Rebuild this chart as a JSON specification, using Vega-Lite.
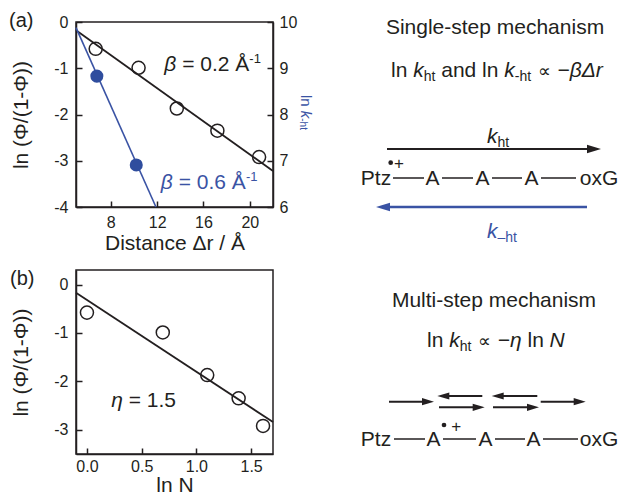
{
  "$schema": "https://vega.github.io/schema/vega-lite/v6.json",
  "autosize": {"type": "pad"},
  "padding": {"left": 8, "top": 10, "right": 0, "bottom": 0},
  "background": "white",
  "config": {
    "font": "Liberation Sans",
    "view": {"stroke": "#231f20", "strokeWidth": 1.5},
    "axis": {"grid": false, "domainColor": "#231f20", "domainWidth": 1.5, "tickColor": "#231f20", "tickWidth": 1.5, "tickSize": -6,
      "labelFont": "Liberation Sans", "labelFontSize": 16, "labelColor": "#231f20", "labelFlush": false, "labelOverlap": false, "labelBound": false,
      "titleFont": "Liberation Sans", "titleFontSize": 21, "titleFontWeight": "normal", "titleColor": "#231f20"},
    "text": {"font": "Liberation Sans", "fontSize": 21, "color": "#231f20"}
  },
  "bounds": "flush",
  "columns": 2,
  "spacing": {"row": 63, "column": 56},
  "concat": [
    {
      "width": 197, "height": 185,
      "resolve": {"scale": {"y": "independent"}},
      "layer": [
        {
          "layer": [
            {
              "data": {"values": [{"d": 5, "v": -0.18}, {"d": 22, "v": -3.22}]},
              "mark": {"type": "line", "color": "#231f20", "strokeWidth": 1.8},
              "encoding": {
                "x": {"field": "d", "type": "quantitative", "scale": {"domain": [5, 22], "nice": false, "zero": false},
                  "axis": {"title": "Distance Δr / Å", "values": [8, 10, 12, 14, 16, 18, 20], "labelOverlap": false,
                    "labelExpr": "datum.value % 4 === 0 ? '' + datum.value : ''",
                    "tickDash": {"condition": {"test": "datum.value % 4 !== 0", "value": [3, 20]}, "value": [10, 0]},
                    "labelPadding": 13, "titlePadding": 2}},
                "y": {"field": "v", "type": "quantitative", "scale": {"domain": [-4, 0], "nice": false, "zero": false},
                  "axis": {"orient": "left", "title": "ln (Φ/(1-Φ))", "values": [-4, -3.5, -3, -2.5, -2, -1.5, -1, -0.5, 0], "labelOverlap": false,
                    "labelExpr": "datum.value % 1 === 0 ? (datum.value < 0 ? '-' + abs(datum.value) : '' + datum.value) : ''",
                    "tickDash": {"condition": {"test": "datum.value % 1 !== 0", "value": [3, 20]}, "value": [10, 0]},
                    "labelPadding": 14, "titlePadding": 22}}
              }
            },
            {
              "data": {"values": [{"d": 6.7, "v": -0.58}, {"d": 10.4, "v": -0.99}, {"d": 13.7, "v": -1.87}, {"d": 17.2, "v": -2.35}, {"d": 20.8, "v": -2.92}]},
              "mark": {"type": "point", "shape": "circle", "filled": false, "color": "#231f20", "strokeWidth": 1.5, "size": 170, "opacity": 1},
              "encoding": {
                "x": {"field": "d", "type": "quantitative"},
                "y": {"field": "v", "type": "quantitative"}
              }
            },
            {
              "data": {"values": [{}]},
              "layer": [
                {"mark": {"type": "text", "text": "(a)", "align": "center", "baseline": "middle", "fontSize": 20}, "encoding": {"x": {"datum": 0.28}, "y": {"datum": 0.02}}},
                {"mark": {"type": "text", "text": "β", "align": "left", "baseline": "alphabetic", "fontStyle": "italic"}, "encoding": {"x": {"datum": 12.62}, "y": {"datum": -1.05}}},
                {"mark": {"type": "text", "text": "= 0.2 Å", "align": "left", "baseline": "alphabetic"}, "encoding": {"x": {"datum": 14.16}, "y": {"datum": -1.05}}},
                {"mark": {"type": "text", "text": "-1", "align": "left", "baseline": "alphabetic", "fontSize": 13}, "encoding": {"x": {"datum": 19.96}, "y": {"datum": -0.877}}},
                {"mark": {"type": "text", "text": "β", "align": "left", "baseline": "alphabetic", "fontStyle": "italic", "color": "#3a53a4"}, "encoding": {"x": {"datum": 12.32}, "y": {"datum": -3.62}}},
                {"mark": {"type": "text", "text": "= 0.6 Å", "align": "left", "baseline": "alphabetic", "color": "#3a53a4"}, "encoding": {"x": {"datum": 13.86}, "y": {"datum": -3.62}}},
                {"mark": {"type": "text", "text": "-1", "align": "left", "baseline": "alphabetic", "fontSize": 13, "color": "#3a53a4"}, "encoding": {"x": {"datum": 19.66}, "y": {"datum": -3.447}}},
                {"mark": {"type": "text", "text": "ln", "angle": 90, "align": "left", "baseline": "middle", "fontSize": 15, "color": "#3a53a4"}, "encoding": {"x": {"datum": 24.85}, "y": {"datum": -1.578}}},
                {"mark": {"type": "text", "text": "k", "angle": 90, "align": "left", "baseline": "middle", "fontSize": 15, "fontStyle": "italic", "color": "#3a53a4"}, "encoding": {"x": {"datum": 24.85}, "y": {"datum": -1.92}}},
                {"mark": {"type": "text", "text": "-ht", "angle": 90, "align": "left", "baseline": "middle", "fontSize": 10, "dy": 3, "color": "#3a53a4"}, "encoding": {"x": {"datum": 24.85}, "y": {"datum": -2.082}}}
              ]
            }
          ]
        },
        {
          "layer": [
            {
              "data": {"values": [{"d": 5, "k": 9.88}, {"d": 11.9, "k": 6}]},
              "mark": {"type": "line", "color": "#3a53a4", "strokeWidth": 1.6},
              "encoding": {
                "x": {"field": "d", "type": "quantitative"},
                "y": {"field": "k", "type": "quantitative", "scale": {"domain": [6, 10], "nice": false, "zero": false},
                  "axis": {"orient": "right", "title": null, "values": [6, 6.5, 7, 7.5, 8, 8.5, 9, 9.5, 10], "labelOverlap": false,
                    "labelExpr": "datum.value % 1 === 0 ? '' + datum.value : ''",
                    "tickDash": {"condition": {"test": "datum.value % 1 !== 0", "value": [3, 20]}, "value": [10, 0]},
                    "labelPadding": 12}}
              }
            },
            {
              "data": {"values": [{"d": 6.8, "k": 8.83}, {"d": 10.2, "k": 6.91}]},
              "mark": {"type": "point", "shape": "circle", "filled": true, "color": "#2f4d9e", "size": 170, "opacity": 1},
              "encoding": {
                "x": {"field": "d", "type": "quantitative"},
                "y": {"field": "k", "type": "quantitative"}
              }
            }
          ]
        }
      ]
    },
    {
      "width": 293, "height": 185,
      "view": {"stroke": null},
      "data": {"values": [{}]},
      "layer": [
        {"mark": {"type": "text", "text": "Single-step mechanism", "align": "center", "baseline": "alphabetic"},
          "encoding": {"x": {"datum": 166, "type": "quantitative", "scale": {"domain": [0, 293], "nice": false, "zero": false}, "axis": null},
            "y": {"datum": 12, "type": "quantitative", "scale": {"domain": [0, 185], "reverse": true, "nice": false, "zero": false}, "axis": null}}},
        {"mark": {"type": "text", "text": "ln", "align": "left", "baseline": "alphabetic"}, "encoding": {"x": {"datum": 62, "axis": null}, "y": {"datum": 55.3, "axis": null}}},
        {"mark": {"type": "text", "text": "k", "align": "left", "baseline": "alphabetic", "fontStyle": "italic"}, "encoding": {"x": {"datum": 84.2, "axis": null}, "y": {"datum": 55.3, "axis": null}}},
        {"mark": {"type": "text", "text": "ht", "align": "left", "baseline": "alphabetic", "fontSize": 14}, "encoding": {"x": {"datum": 94.7, "axis": null}, "y": {"datum": 59.3, "axis": null}}},
        {"mark": {"type": "text", "text": "and ln", "align": "left", "baseline": "alphabetic"}, "encoding": {"x": {"datum": 112.2, "axis": null}, "y": {"datum": 55.3, "axis": null}}},
        {"mark": {"type": "text", "text": "k", "align": "left", "baseline": "alphabetic", "fontStyle": "italic"}, "encoding": {"x": {"datum": 175.3, "axis": null}, "y": {"datum": 55.3, "axis": null}}},
        {"mark": {"type": "text", "text": "-ht", "align": "left", "baseline": "alphabetic", "fontSize": 14}, "encoding": {"x": {"datum": 185.8, "axis": null}, "y": {"datum": 59.3, "axis": null}}},
        {"mark": {"type": "text", "text": "∝", "align": "center", "baseline": "alphabetic", "fontSize": 18}, "encoding": {"x": {"datum": 215.3, "axis": null}, "y": {"datum": 55.3, "axis": null}}},
        {"mark": {"type": "text", "text": "−βΔr", "align": "left", "baseline": "alphabetic", "fontStyle": "italic"}, "encoding": {"x": {"datum": 228.5, "axis": null}, "y": {"datum": 55.3, "axis": null}}},
        {"mark": {"type": "text", "text": "k", "align": "left", "baseline": "alphabetic", "fontStyle": "italic"}, "encoding": {"x": {"datum": 158, "axis": null}, "y": {"datum": 121, "axis": null}}},
        {"mark": {"type": "text", "text": "ht", "align": "left", "baseline": "alphabetic", "fontSize": 14}, "encoding": {"x": {"datum": 168.5, "axis": null}, "y": {"datum": 125, "axis": null}}},
        {"mark": {"type": "rule", "color": "#231f20", "strokeWidth": 2}, "encoding": {"x": {"datum": 58, "axis": null}, "x2": {"datum": 262}, "y": {"datum": 127, "axis": null}}},
        {"mark": {"type": "point", "shape": "M-1,-0.6L1,0L-1,0.6Z", "filled": true, "color": "#231f20", "size": 196, "opacity": 1, "strokeWidth": 0}, "encoding": {"x": {"datum": 265, "axis": null}, "y": {"datum": 127, "axis": null}}},
        {"mark": {"type": "point", "shape": "circle", "filled": true, "color": "#231f20", "size": 22, "opacity": 1}, "encoding": {"x": {"datum": 61.7, "axis": null}, "y": {"datum": 140.7, "axis": null}}},
        {"mark": {"type": "text", "text": "+", "align": "center", "baseline": "middle", "fontSize": 17}, "encoding": {"x": {"datum": 70, "axis": null}, "y": {"datum": 142, "axis": null}}},
        {"mark": {"type": "text", "text": "Ptz", "align": "center", "baseline": "alphabetic"}, "encoding": {"x": {"datum": 47, "axis": null}, "y": {"datum": 163, "axis": null}}},
        {"mark": {"type": "text", "text": "A", "align": "center", "baseline": "alphabetic"}, "encoding": {"x": {"datum": 103.5, "axis": null}, "y": {"datum": 163, "axis": null}}},
        {"mark": {"type": "text", "text": "A", "align": "center", "baseline": "alphabetic"}, "encoding": {"x": {"datum": 153.5, "axis": null}, "y": {"datum": 163, "axis": null}}},
        {"mark": {"type": "text", "text": "A", "align": "center", "baseline": "alphabetic"}, "encoding": {"x": {"datum": 202.5, "axis": null}, "y": {"datum": 163, "axis": null}}},
        {"mark": {"type": "text", "text": "oxG", "align": "center", "baseline": "alphabetic"}, "encoding": {"x": {"datum": 270, "axis": null}, "y": {"datum": 163, "axis": null}}},
        {"mark": {"type": "rule", "color": "#231f20", "strokeWidth": 1.5}, "encoding": {"x": {"datum": 64, "axis": null}, "x2": {"datum": 95}, "y": {"datum": 156, "axis": null}}},
        {"mark": {"type": "rule", "color": "#231f20", "strokeWidth": 1.5}, "encoding": {"x": {"datum": 113, "axis": null}, "x2": {"datum": 144}, "y": {"datum": 156, "axis": null}}},
        {"mark": {"type": "rule", "color": "#231f20", "strokeWidth": 1.5}, "encoding": {"x": {"datum": 163, "axis": null}, "x2": {"datum": 193}, "y": {"datum": 156, "axis": null}}},
        {"mark": {"type": "rule", "color": "#231f20", "strokeWidth": 1.5}, "encoding": {"x": {"datum": 212, "axis": null}, "x2": {"datum": 247}, "y": {"datum": 156, "axis": null}}},
        {"mark": {"type": "rule", "color": "#3a53a4", "strokeWidth": 2.5}, "encoding": {"x": {"datum": 57, "axis": null}, "x2": {"datum": 258}, "y": {"datum": 185, "axis": null}}},
        {"mark": {"type": "point", "shape": "M1,-0.6L-1,0L1,0.6Z", "filled": true, "color": "#3a53a4", "size": 196, "opacity": 1, "strokeWidth": 0}, "encoding": {"x": {"datum": 54, "axis": null}, "y": {"datum": 185, "axis": null}}},
        {"mark": {"type": "text", "text": "k", "align": "left", "baseline": "alphabetic", "fontStyle": "italic", "color": "#3a53a4"}, "encoding": {"x": {"datum": 158, "axis": null}, "y": {"datum": 216, "axis": null}}},
        {"mark": {"type": "text", "text": "–ht", "align": "left", "baseline": "alphabetic", "fontSize": 14, "color": "#3a53a4"}, "encoding": {"x": {"datum": 168.5, "axis": null}, "y": {"datum": 220, "axis": null}}}
      ]
    },
    {
      "width": 197, "height": 184,
      "layer": [
        {
          "data": {"values": [{"n": -0.1, "v": -0.17}, {"n": 1.7, "v": -2.84}]},
          "mark": {"type": "line", "color": "#231f20", "strokeWidth": 1.8},
          "encoding": {
            "x": {"field": "n", "type": "quantitative", "scale": {"domain": [-0.1, 1.7], "nice": false, "zero": false},
              "axis": {"title": "ln N", "values": [0, 0.25, 0.5, 0.75, 1, 1.25, 1.5], "labelOverlap": false,
                "labelExpr": "datum.value % 0.5 === 0 ? format(datum.value, '.1f') : ''",
                "tickDash": {"condition": {"test": "datum.value % 0.5 !== 0", "value": [3, 20]}, "value": [10, 0]},
                "labelPadding": 10, "titlePadding": 0}},
            "y": {"field": "v", "type": "quantitative", "scale": {"domain": [-3.5, 0.3], "nice": false, "zero": false},
              "axis": {"orient": "left", "title": "ln (Φ/(1-Φ))", "values": [-3, -2.5, -2, -1.5, -1, -0.5, 0], "labelOverlap": false,
                "labelExpr": "datum.value % 1 === 0 ? (datum.value < 0 ? '-' + abs(datum.value) : '' + datum.value) : ''",
                "tickDash": {"condition": {"test": "datum.value % 1 !== 0", "value": [3, 20]}, "value": [10, 0]},
                "labelPadding": 14, "titlePadding": 22}}
          }
        },
        {
          "data": {"values": [{"n": 0, "v": -0.58}, {"n": 0.693, "v": -0.99}, {"n": 1.099, "v": -1.87}, {"n": 1.386, "v": -2.35}, {"n": 1.609, "v": -2.92}]},
          "mark": {"type": "point", "shape": "circle", "filled": false, "color": "#231f20", "strokeWidth": 1.5, "size": 170, "opacity": 1},
          "encoding": {
            "x": {"field": "n", "type": "quantitative"},
            "y": {"field": "v", "type": "quantitative"}
          }
        },
        {
          "data": {"values": [{}]},
          "layer": [
            {"mark": {"type": "text", "text": "(b)", "align": "center", "baseline": "middle", "fontSize": 20}, "encoding": {"x": {"datum": -0.591}, "y": {"datum": 0.114}}},
            {"mark": {"type": "text", "text": "η", "align": "left", "baseline": "alphabetic", "fontStyle": "italic"}, "encoding": {"x": {"datum": 0.221}, "y": {"datum": -2.523}}},
            {"mark": {"type": "text", "text": "= 1.5", "align": "left", "baseline": "alphabetic"}, "encoding": {"x": {"datum": 0.381}, "y": {"datum": -2.523}}}
          ]
        }
      ]
    },
    {
      "width": 293, "height": 184,
      "view": {"stroke": null},
      "data": {"values": [{}]},
      "layer": [
        {"mark": {"type": "text", "text": "Multi-step mechanism", "align": "center", "baseline": "alphabetic"},
          "encoding": {"x": {"datum": 165, "type": "quantitative", "scale": {"domain": [0, 293], "nice": false, "zero": false}, "axis": null},
            "y": {"datum": 36.7, "type": "quantitative", "scale": {"domain": [0, 184], "reverse": true, "nice": false, "zero": false}, "axis": null}}},
        {"mark": {"type": "text", "text": "ln", "align": "left", "baseline": "alphabetic"}, "encoding": {"x": {"datum": 98, "axis": null}, "y": {"datum": 76.7, "axis": null}}},
        {"mark": {"type": "text", "text": "k", "align": "left", "baseline": "alphabetic", "fontStyle": "italic"}, "encoding": {"x": {"datum": 120.2, "axis": null}, "y": {"datum": 76.7, "axis": null}}},
        {"mark": {"type": "text", "text": "ht", "align": "left", "baseline": "alphabetic", "fontSize": 14}, "encoding": {"x": {"datum": 130.7, "axis": null}, "y": {"datum": 80.7, "axis": null}}},
        {"mark": {"type": "text", "text": "∝", "align": "center", "baseline": "alphabetic", "fontSize": 18}, "encoding": {"x": {"datum": 155.6, "axis": null}, "y": {"datum": 76.7, "axis": null}}},
        {"mark": {"type": "text", "text": "−η", "align": "left", "baseline": "alphabetic", "fontStyle": "italic"}, "encoding": {"x": {"datum": 168.8, "axis": null}, "y": {"datum": 76.7, "axis": null}}},
        {"mark": {"type": "text", "text": "ln", "align": "left", "baseline": "alphabetic"}, "encoding": {"x": {"datum": 198.5, "axis": null}, "y": {"datum": 76.7, "axis": null}}},
        {"mark": {"type": "text", "text": "N", "align": "left", "baseline": "alphabetic", "fontStyle": "italic"}, "encoding": {"x": {"datum": 220.6, "axis": null}, "y": {"datum": 76.7, "axis": null}}},
        {"mark": {"type": "rule", "color": "#231f20", "strokeWidth": 2}, "encoding": {"x": {"datum": 60, "axis": null}, "x2": {"datum": 97}, "y": {"datum": 131.7, "axis": null}}},
        {"mark": {"type": "point", "shape": "M-1,-0.6L1,0L-1,0.6Z", "filled": true, "color": "#231f20", "size": 144, "opacity": 1, "strokeWidth": 0}, "encoding": {"x": {"datum": 99, "axis": null}, "y": {"datum": 131.7, "axis": null}}},
        {"mark": {"type": "rule", "color": "#231f20", "strokeWidth": 2}, "encoding": {"x": {"datum": 116.3, "axis": null}, "x2": {"datum": 153.3}, "y": {"datum": 126, "axis": null}}},
        {"mark": {"type": "point", "shape": "M1,-0.6L-1,0L1,0.6Z", "filled": true, "color": "#231f20", "size": 144, "opacity": 1, "strokeWidth": 0}, "encoding": {"x": {"datum": 114.3, "axis": null}, "y": {"datum": 126, "axis": null}}},
        {"mark": {"type": "rule", "color": "#231f20", "strokeWidth": 2}, "encoding": {"x": {"datum": 110, "axis": null}, "x2": {"datum": 147.7}, "y": {"datum": 137.3, "axis": null}}},
        {"mark": {"type": "point", "shape": "M-1,-0.6L1,0L-1,0.6Z", "filled": true, "color": "#231f20", "size": 144, "opacity": 1, "strokeWidth": 0}, "encoding": {"x": {"datum": 149.7, "axis": null}, "y": {"datum": 137.3, "axis": null}}},
        {"mark": {"type": "rule", "color": "#231f20", "strokeWidth": 2}, "encoding": {"x": {"datum": 170.7, "axis": null}, "x2": {"datum": 208.3}, "y": {"datum": 126, "axis": null}}},
        {"mark": {"type": "point", "shape": "M1,-0.6L-1,0L1,0.6Z", "filled": true, "color": "#231f20", "size": 144, "opacity": 1, "strokeWidth": 0}, "encoding": {"x": {"datum": 168.7, "axis": null}, "y": {"datum": 126, "axis": null}}},
        {"mark": {"type": "rule", "color": "#231f20", "strokeWidth": 2}, "encoding": {"x": {"datum": 164, "axis": null}, "x2": {"datum": 202}, "y": {"datum": 137.3, "axis": null}}},
        {"mark": {"type": "point", "shape": "M-1,-0.6L1,0L-1,0.6Z", "filled": true, "color": "#231f20", "size": 144, "opacity": 1, "strokeWidth": 0}, "encoding": {"x": {"datum": 204, "axis": null}, "y": {"datum": 137.3, "axis": null}}},
        {"mark": {"type": "rule", "color": "#231f20", "strokeWidth": 2}, "encoding": {"x": {"datum": 211.7, "axis": null}, "x2": {"datum": 248.7}, "y": {"datum": 131.7, "axis": null}}},
        {"mark": {"type": "point", "shape": "M-1,-0.6L1,0L-1,0.6Z", "filled": true, "color": "#231f20", "size": 144, "opacity": 1, "strokeWidth": 0}, "encoding": {"x": {"datum": 250.7, "axis": null}, "y": {"datum": 131.7, "axis": null}}},
        {"mark": {"type": "point", "shape": "circle", "filled": true, "color": "#231f20", "size": 22, "opacity": 1}, "encoding": {"x": {"datum": 115, "axis": null}, "y": {"datum": 155, "axis": null}}},
        {"mark": {"type": "text", "text": "+", "align": "center", "baseline": "middle", "fontSize": 17}, "encoding": {"x": {"datum": 127.3, "axis": null}, "y": {"datum": 156.7, "axis": null}}},
        {"mark": {"type": "text", "text": "Ptz", "align": "center", "baseline": "alphabetic"}, "encoding": {"x": {"datum": 47, "axis": null}, "y": {"datum": 176, "axis": null}}},
        {"mark": {"type": "text", "text": "A", "align": "center", "baseline": "alphabetic"}, "encoding": {"x": {"datum": 104.5, "axis": null}, "y": {"datum": 176, "axis": null}}},
        {"mark": {"type": "text", "text": "A", "align": "center", "baseline": "alphabetic"}, "encoding": {"x": {"datum": 156.5, "axis": null}, "y": {"datum": 176, "axis": null}}},
        {"mark": {"type": "text", "text": "A", "align": "center", "baseline": "alphabetic"}, "encoding": {"x": {"datum": 204.5, "axis": null}, "y": {"datum": 176, "axis": null}}},
        {"mark": {"type": "text", "text": "oxG", "align": "center", "baseline": "alphabetic"}, "encoding": {"x": {"datum": 270, "axis": null}, "y": {"datum": 176, "axis": null}}},
        {"mark": {"type": "rule", "color": "#231f20", "strokeWidth": 1.5}, "encoding": {"x": {"datum": 65, "axis": null}, "x2": {"datum": 96}, "y": {"datum": 169, "axis": null}}},
        {"mark": {"type": "rule", "color": "#231f20", "strokeWidth": 1.5}, "encoding": {"x": {"datum": 114, "axis": null}, "x2": {"datum": 147}, "y": {"datum": 169, "axis": null}}},
        {"mark": {"type": "rule", "color": "#231f20", "strokeWidth": 1.5}, "encoding": {"x": {"datum": 166, "axis": null}, "x2": {"datum": 196}, "y": {"datum": 169, "axis": null}}},
        {"mark": {"type": "rule", "color": "#231f20", "strokeWidth": 1.5}, "encoding": {"x": {"datum": 214, "axis": null}, "x2": {"datum": 249}, "y": {"datum": 169, "axis": null}}}
      ]
    }
  ]
}
